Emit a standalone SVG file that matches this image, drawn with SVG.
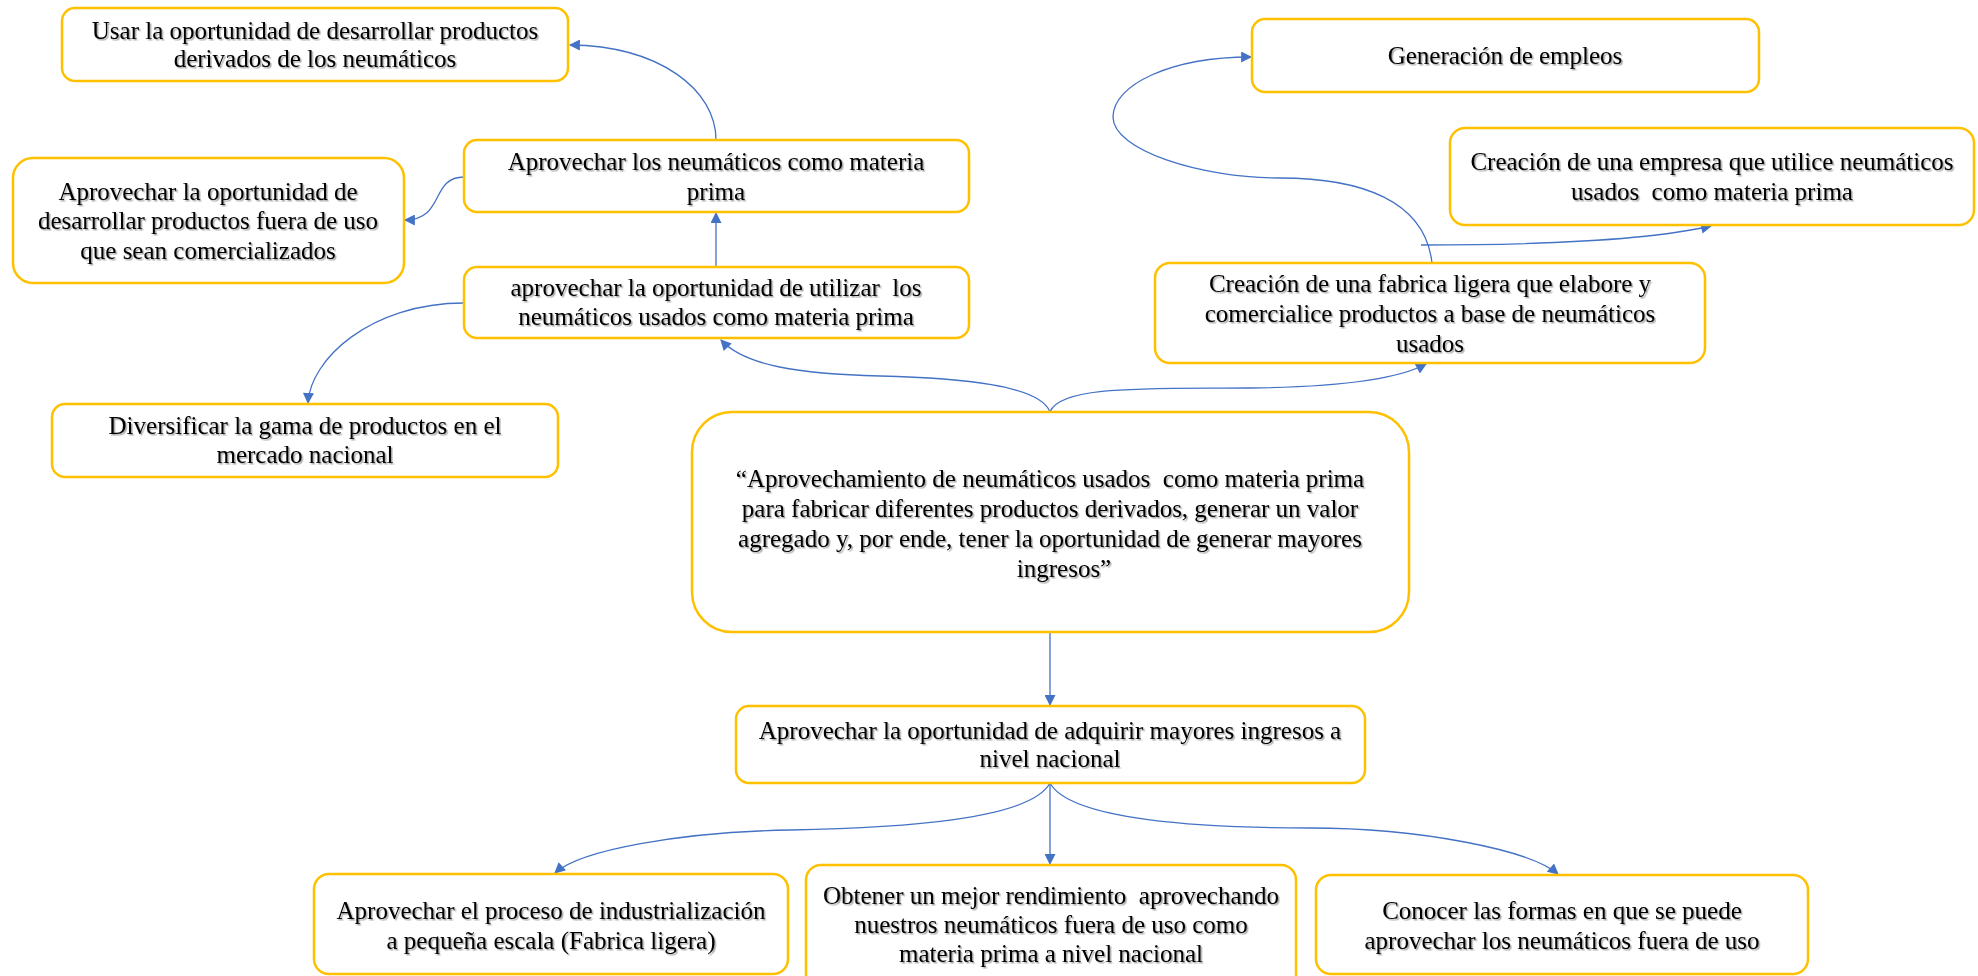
<svg xmlns="http://www.w3.org/2000/svg" width="1978" height="976" viewBox="0 0 1978 976">
<style>
.box{fill:#fff;stroke:#FFC000;stroke-width:2.5}
.t{font-family:"Liberation Serif","Times New Roman",serif;font-size:25px;fill:#000;text-anchor:middle;filter:url(#sh)}
.c{fill:none;stroke:#4472C4;stroke-width:1.3}
</style>
<defs>
<filter id="sh" x="-5%" y="-30%" width="110%" height="160%">
<feDropShadow dx="1.5" dy="1.5" stdDeviation="0.7" flood-color="#000" flood-opacity="0.35"/>
</filter>
<marker id="ar" viewBox="0 0 10 10" refX="9" refY="5" markerWidth="12" markerHeight="11" markerUnits="userSpaceOnUse" orient="auto">
<path d="M0,0 L10,5 L0,10 z" fill="#4472C4"/>
</marker>
</defs>
<rect width="1978" height="976" fill="#fff"/>
<g id="connectors">
<path class="c" marker-end="url(#ar)" d="M716,140 C716,90 660,46 570,45"/>
<path class="c" marker-end="url(#ar)" d="M464,177 C430,177 445,220 405,220"/>
<path class="c" marker-end="url(#ar)" d="M716,267 L716,213"/>
<path class="c" marker-end="url(#ar)" d="M464,303 C370,303 310,360 308,403"/>
<path class="c" marker-end="url(#ar)" d="M1050,412 C1040,385 960,378 880,376 C800,374 745,366 721,340"/>
<path class="c" marker-end="url(#ar)" d="M1050,412 C1060,385 1150,389 1250,388 C1350,387 1400,378 1426,364"/>
<path class="c" marker-end="url(#ar)" d="M1432,263 C1425,200 1360,178 1280,178 C1200,178 1113,150 1113,117 C1113,85 1170,57 1251,57"/>
<path class="c" marker-end="url(#ar)" d="M1421,245 C1550,245 1650,240 1711,226"/>
<path class="c" marker-end="url(#ar)" d="M1050,632 L1050,705"/>
<path class="c" marker-end="url(#ar)" d="M1050,783 C1030,820 900,828 790,830 C680,832 580,850 555,873"/>
<path class="c" marker-end="url(#ar)" d="M1050,783 L1050,864"/>
<path class="c" marker-end="url(#ar)" d="M1050,783 C1070,820 1200,828 1310,828 C1420,828 1530,850 1558,874"/>
</g>
<g id="n1"><rect class="box" x="62" y="8" width="506" height="73" rx="13"/>
<text class="t" x="315" y="39">Usar la oportunidad de desarrollar productos</text>
<text class="t" x="315" y="67">derivados de los neumáticos</text></g>
<g id="n2"><rect class="box" x="464" y="140" width="505" height="72" rx="13"/>
<text class="t" x="716" y="170">Aprovechar los neumáticos como materia</text>
<text class="t" x="716" y="200">prima</text></g>
<g id="n3"><rect class="box" x="13" y="158" width="391" height="125" rx="20"/>
<text class="t" x="208" y="200">Aprovechar la oportunidad de</text>
<text class="t" x="208" y="229">desarrollar productos fuera de uso</text>
<text class="t" x="208" y="259">que sean comercializados</text></g>
<g id="n4"><rect class="box" x="464" y="267" width="505" height="71" rx="13"/>
<text class="t" x="716" y="296" xml:space="preserve">aprovechar la oportunidad de utilizar  los</text>
<text class="t" x="716" y="325">neumáticos usados como materia prima</text></g>
<g id="n5"><rect class="box" x="52" y="404" width="506" height="73" rx="13"/>
<text class="t" x="305" y="434">Diversificar la gama de productos en el</text>
<text class="t" x="305" y="463">mercado nacional</text></g>
<g id="n6"><rect class="box" x="692" y="412" width="717" height="220" rx="40"/>
<text class="t" x="1050" y="487" xml:space="preserve">“Aprovechamiento de neumáticos usados  como materia prima</text>
<text class="t" x="1050" y="517">para fabricar diferentes productos derivados, generar un valor</text>
<text class="t" x="1050" y="547">agregado y, por ende, tener la oportunidad de generar mayores</text>
<text class="t" x="1064" y="577">ingresos”</text></g>
<g id="n7"><rect class="box" x="1252" y="19" width="507" height="73" rx="13"/>
<text class="t" x="1505" y="64">Generación de empleos</text></g>
<g id="n8"><rect class="box" x="1450" y="128" width="524" height="97" rx="15"/>
<text class="t" x="1712" y="170">Creación de una empresa que utilice neumáticos</text>
<text class="t" x="1712" y="200" xml:space="preserve">usados  como materia prima</text></g>
<g id="n9"><rect class="box" x="1155" y="263" width="550" height="100" rx="15"/>
<text class="t" x="1430" y="292">Creación de una fabrica ligera que elabore y</text>
<text class="t" x="1430" y="322">comercialice productos a base de neumáticos</text>
<text class="t" x="1430" y="352">usados</text></g>
<g id="n10"><rect class="box" x="736" y="706" width="629" height="77" rx="13"/>
<text class="t" x="1050" y="739">Aprovechar la oportunidad de adquirir mayores ingresos a</text>
<text class="t" x="1050" y="767">nivel nacional</text></g>
<g id="n11"><rect class="box" x="314" y="874" width="474" height="100" rx="15"/>
<text class="t" x="551" y="919">Aprovechar el proceso de industrialización</text>
<text class="t" x="551" y="949">a pequeña escala (Fabrica ligera)</text></g>
<g id="n12"><rect class="box" x="806" y="865" width="490" height="125" rx="15"/>
<text class="t" x="1051" y="904" xml:space="preserve">Obtener un mejor rendimiento  aprovechando</text>
<text class="t" x="1051" y="933">nuestros neumáticos fuera de uso como</text>
<text class="t" x="1051" y="962">materia prima a nivel nacional</text></g>
<g id="n13"><rect class="box" x="1316" y="875" width="492" height="99" rx="15"/>
<text class="t" x="1562" y="919">Conocer las formas en que se puede</text>
<text class="t" x="1562" y="949">aprovechar los neumáticos fuera de uso</text></g>
</svg>
